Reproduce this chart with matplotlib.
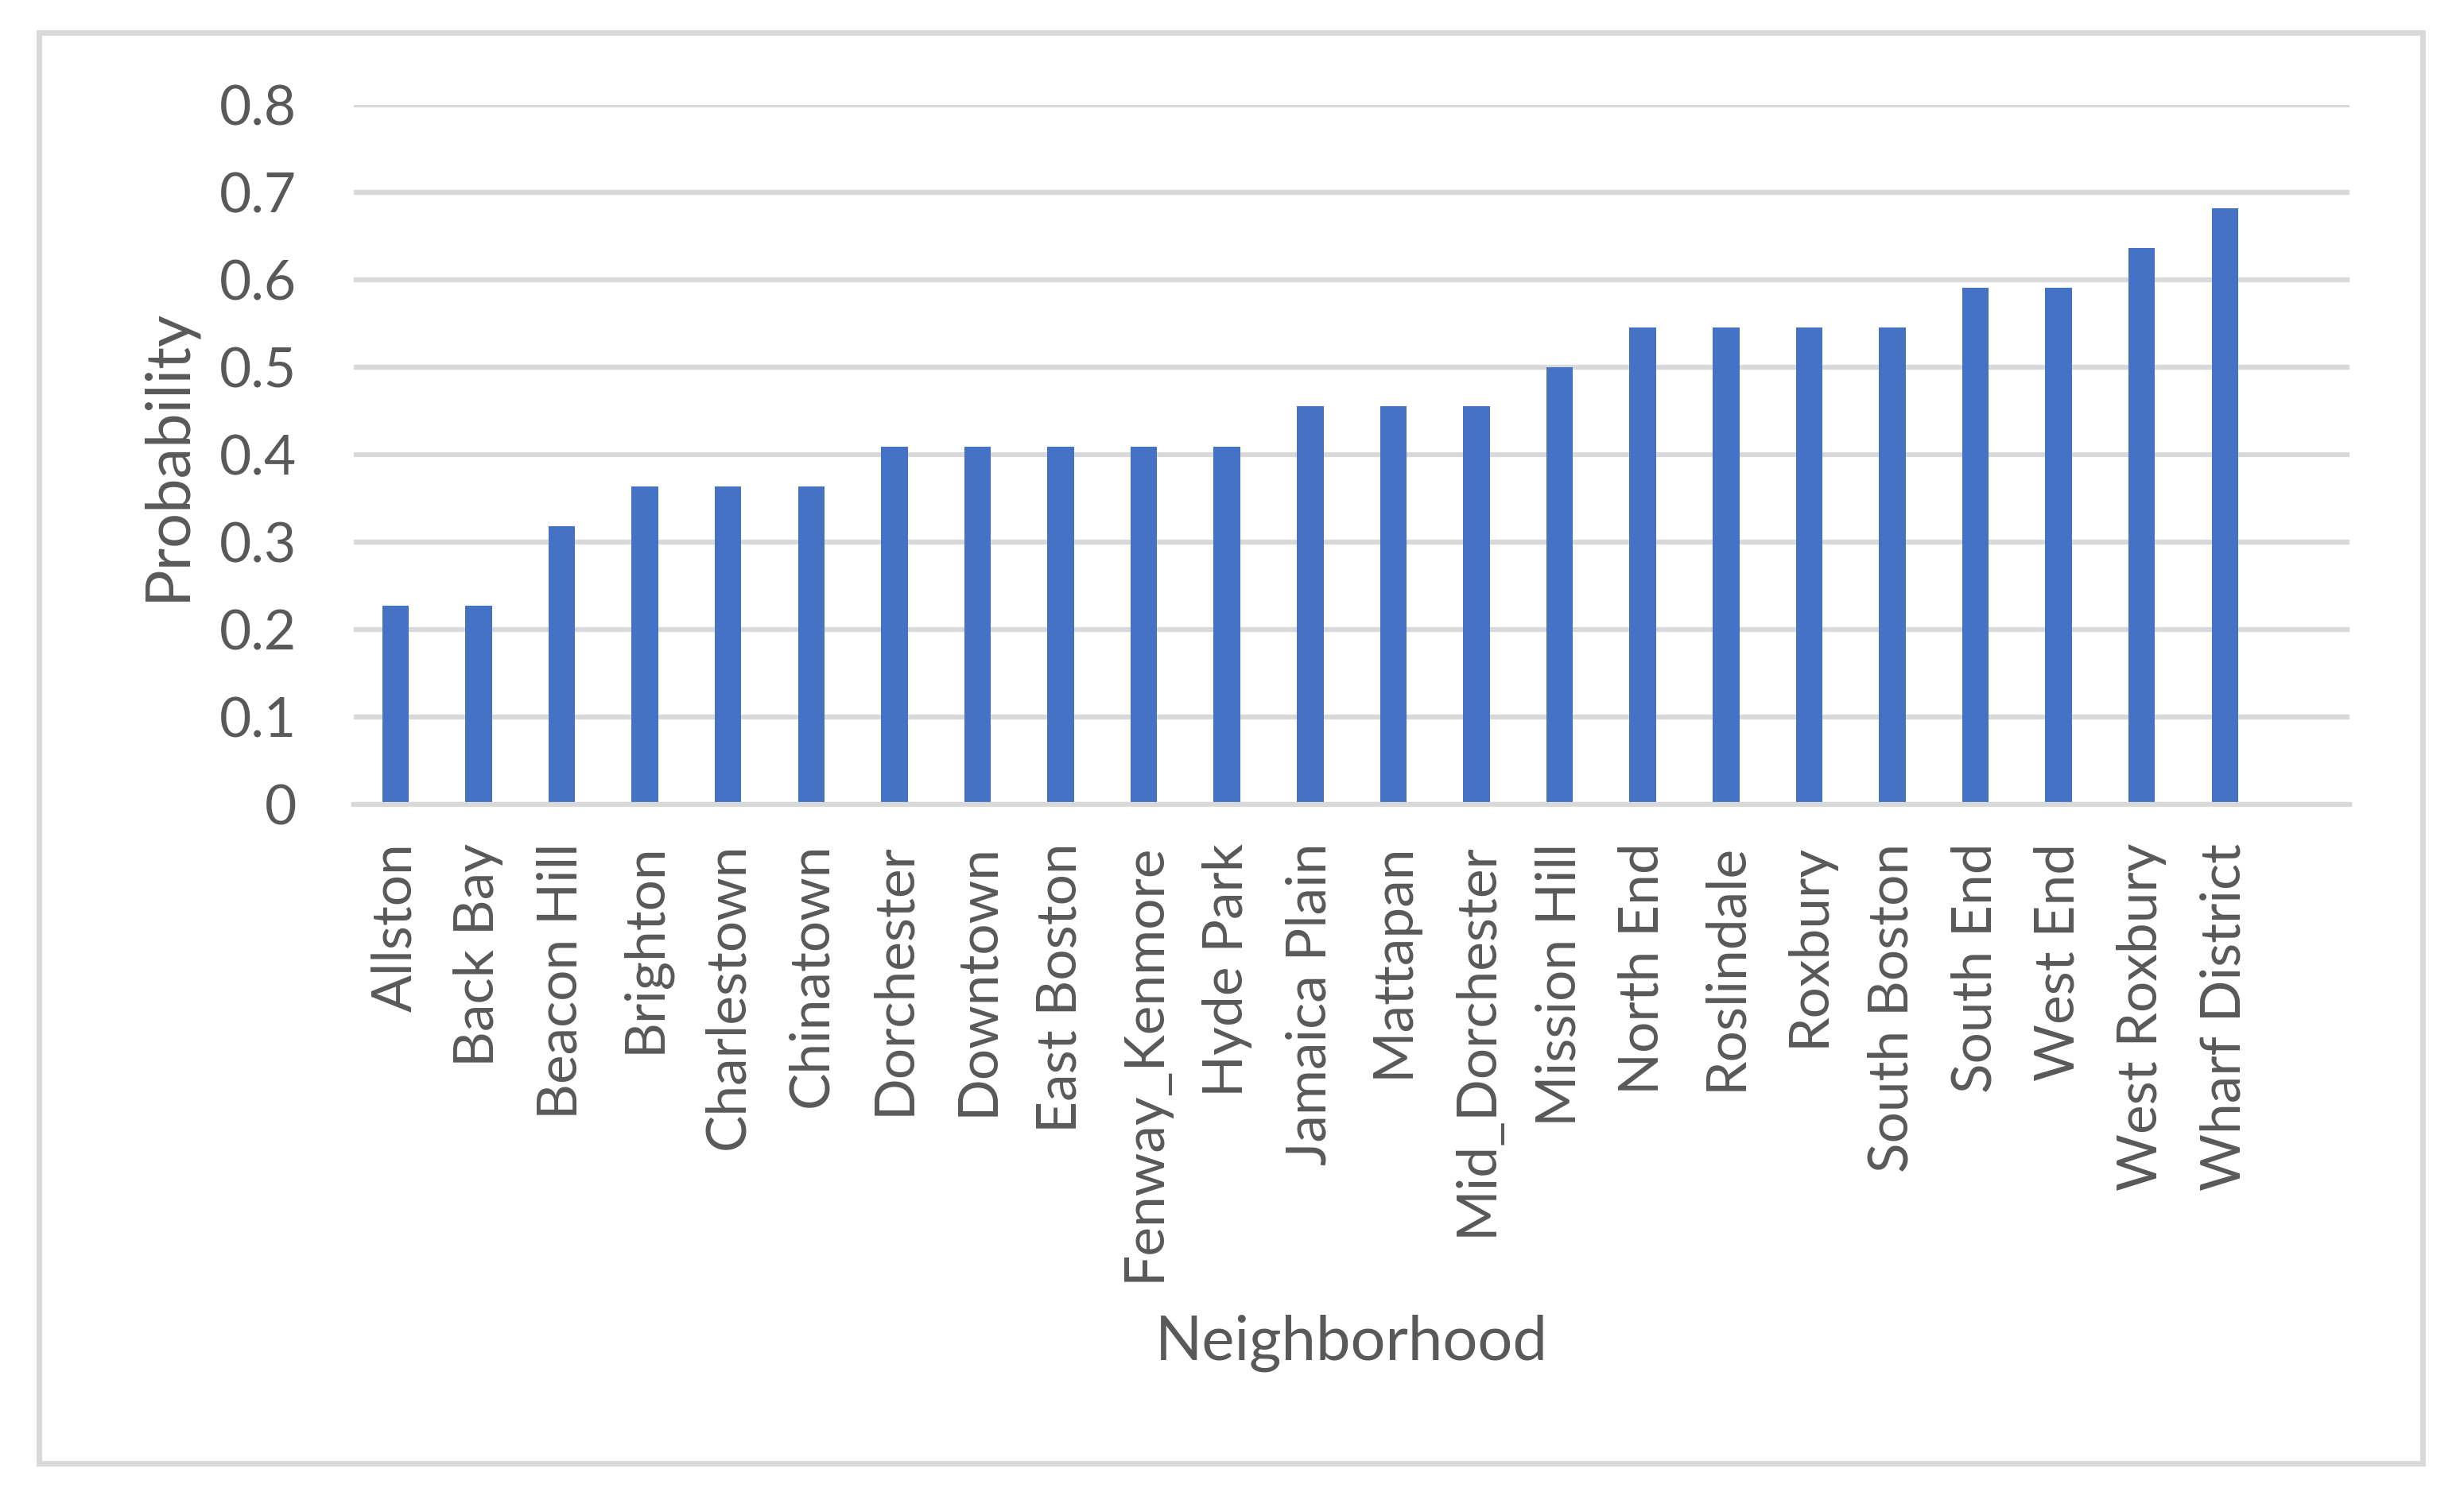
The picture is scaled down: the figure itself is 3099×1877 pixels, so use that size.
import matplotlib
matplotlib.use("Agg")
from matplotlib import pyplot as plt
from matplotlib.patches import Rectangle
import numpy as np

neighborhoods = ["Allston", "Back Bay", "Beacon Hill", "Brighton", "Charlestown",
                 "Chinatown", "Dorchester", "Downtown", "East Boston", "Fenway_Kenmore",
                 "Hyde Park", "Jamaica Plain", "Mattapan", "Mid_Dorchester", "Mission Hill",
                 "North End", "Roslindale", "Roxbury", "South Boston", "South End",
                 "West End", "West Roxbury", "Wharf District"]
probability = [0.227, 0.227, 0.318, 0.364, 0.364,
               0.364, 0.409, 0.409, 0.409, 0.409,
               0.409, 0.455, 0.455, 0.455, 0.5,
               0.545, 0.545, 0.545, 0.545, 0.591,
               0.591, 0.636, 0.682]
y_ticks = [0, 0.1, 0.2, 0.3, 0.4, 0.5, 0.6, 0.7, 0.8]
y_tick_labels = ["0", "0.1", "0.2", "0.3", "0.4", "0.5", "0.6", "0.7", "0.8"]

text_color = "#595959"
grid_color = "#D9D9D9"
bar_color = "#4472C4"

plt.rcParams["font.family"] = ["Lato", "DejaVu Sans"]

fig = plt.figure(figsize=(30.99, 18.77), dpi=100)
ax = fig.add_axes([0.1436, 0.4609, 0.81, 0.4688])

x = np.arange(len(neighborhoods))
ax.bar(x, probability, width=0.32, color=bar_color, zorder=3)

ax.set_xlim(-0.5, len(neighborhoods) + 0.5)
ax.set_ylim(0, 0.8)
ax.set_yticks(y_ticks)
ax.set_yticklabels(y_tick_labels)
ax.set_xticks(x)
ax.set_xticklabels(neighborhoods, rotation=90, va="top", ha="center")

ax.tick_params(axis="y", length=0, pad=52, labelsize=50, labelcolor=text_color)
ax.tick_params(axis="x", length=0, pad=35, labelsize=50, labelcolor=text_color)

ax.yaxis.grid(True, color=grid_color, linewidth=4.5, zorder=0)
ax.set_axisbelow(True)
for side in ["top", "right", "left"]:
    ax.spines[side].set_visible(False)
ax.spines["bottom"].set_color(grid_color)
ax.spines["bottom"].set_linewidth(4.5)
ax.spines["bottom"].set_zorder(4)

ax.set_ylabel("Probability", fontsize=56, color=text_color)
ax.yaxis.set_label_coords(-0.0932, 0.5)
ax.set_xlabel("Neighborhood", fontsize=56, color=text_color)
ax.xaxis.set_label_coords(0.5, -0.77)
ax.xaxis.label.set_va("center")
ax.yaxis.label.set_va("center")

# outer chart border
fig.patches.append(Rectangle((0.0158, 0.0192), 0.9674, 0.959, transform=fig.transFigure,
                             fill=False, edgecolor=grid_color, linewidth=5))

fig.savefig("out.png", dpi=100, facecolor="white")
